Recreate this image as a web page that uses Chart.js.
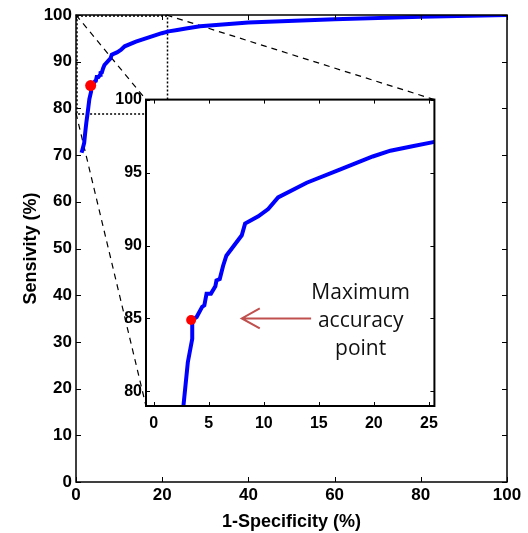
<!DOCTYPE html>
<html>
<head>
<meta charset="utf-8">
<title>ROC curve</title>
<script src="https://cdn.jsdelivr.net/npm/chart.js@4.4.1/dist/chart.umd.min.js"></script>
<style>
  html, body { margin: 0; padding: 0; background: #fff; }
  #wrap { position: relative; width: 528px; height: 533px; }
  #mainChart { position: absolute; left: 0; top: 0; }
  #insetChart { position: absolute; left: 100px; top: 86px; }
</style>
</head>
<body>
<div id="wrap">
  <canvas id="mainChart" width="528" height="533"></canvas>
  <canvas id="insetChart" width="346" height="350"></canvas>
</div>
<script>
// ROC curve (%)
const rocFpr = [1.3, 1.9, 2.1, 2.4, 2.7, 3.1, 3.5, 3.5, 3.9, 4.4, 4.6, 4.8, 5.2, 5.6, 5.7, 6.0, 6.3, 6.6,
  8.0, 8.3, 9.5, 10.4, 11.3, 13.9, 16.9, 19.9, 21.5, 23.5, 25.5, 28.8, 40, 60, 80, 100];
const rocTpr = [70.5, 72.6, 74.5, 77.0, 79.0, 82.0, 83.6, 84.9, 85.1, 85.8, 85.9, 86.7, 86.7, 87.2, 87.6, 87.7, 88.6, 89.3,
  90.7, 91.5, 92.0, 92.5, 93.3, 94.3, 95.2, 96.1, 96.5, 96.8, 97.1, 97.6, 98.4, 99.1, 99.6, 100];

// maximum accuracy point
const bestFpr = [3.4];
const bestTpr = [84.9];

const mainXTicks = [0, 20, 40, 60, 80, 100];
const mainYTicks = [0, 10, 20, 30, 40, 50, 60, 70, 80, 90, 100];
const insetXTicks = [0, 5, 10, 15, 20, 25];
const insetYTicks = [80, 85, 90, 95, 100];
const insetXRange = [-0.7, 25.5];
const insetYRange = [79, 100];

// dotted zoom box on the main axes
const zoomBoxX = [0, 21];
const zoomBoxY = [79, 100];

const noteLines = ['Maximum', 'accuracy', 'point'];
const arrowFrom = [14.3, 85];
const arrowTo = [8.0, 85];
const noteAt = [18.8, 84.8];

Chart.defaults.color = '#000';
Chart.defaults.font.family = '"Liberation Sans", Arial, sans-serif';

const curvePoints = rocFpr.map((v, i) => ({ x: v, y: rocTpr[i] }));
const bestPoints = bestFpr.map((v, i) => ({ x: v, y: bestTpr[i] }));

function setTicks(list) {
  return scale => { scale.ticks = list.map(v => ({ value: v })); };
}

// MATLAB style box with inward ticks
const boxPlugin = {
  id: 'matlabBox',
  beforeDraw(chart, args, opts) {
    if (!opts.fill) return;
    const a = chart.chartArea;
    chart.ctx.save();
    chart.ctx.fillStyle = '#fff';
    chart.ctx.fillRect(a.left, a.top, a.right - a.left, a.bottom - a.top);
    chart.ctx.restore();
  },
  afterDatasetsDraw(chart, args, opts) {
    const { ctx, chartArea: a, scales: { x, y } } = chart;
    const len = opts.tick;
    ctx.save();
    ctx.strokeStyle = '#000';
    ctx.lineWidth = 1;
    ctx.beginPath();
    x.ticks.forEach(t => {
      const px = Math.round(x.getPixelForValue(t.value)) + 0.5;
      ctx.moveTo(px, a.bottom); ctx.lineTo(px, a.bottom - len);
      ctx.moveTo(px, a.top); ctx.lineTo(px, a.top + len);
    });
    y.ticks.forEach(t => {
      const py = Math.round(y.getPixelForValue(t.value)) + 0.5;
      ctx.moveTo(a.left, py); ctx.lineTo(a.left + len, py);
      ctx.moveTo(a.right, py); ctx.lineTo(a.right - len, py);
    });
    ctx.stroke();
    ctx.lineWidth = opts.width;
    ctx.strokeRect(a.left, a.top, a.right - a.left, a.bottom - a.top);
    ctx.restore();
  }
};

// Inset (zoomed) chart
const insetCanvas = document.getElementById('insetChart');
const insetChart = new Chart(insetCanvas.getContext('2d'), {
  type: 'scatter',
  data: {
    datasets: [
      { data: bestPoints, pointRadius: 5, pointHoverRadius: 5, backgroundColor: '#ff0000', borderWidth: 0 },
      { data: curvePoints, showLine: true, borderColor: '#0000ff', borderWidth: 4, pointRadius: 0, tension: 0 }
    ]
  },
  options: {
    responsive: false,
    animation: false,
    events: [],
    layout: { padding: { top: 10, right: 10, left: 0, bottom: 0 } },
    scales: {
      x: {
        type: 'linear', min: insetXRange[0], max: insetXRange[1],
        afterBuildTicks: setTicks(insetXTicks),
        afterFit: s => { s.height = 30; },
        grid: { display: false, drawTicks: false },
        border: { display: false },
        ticks: { padding: 8, font: { size: 16, weight: 'bold' } }
      },
      y: {
        type: 'linear', min: insetYRange[0], max: insetYRange[1],
        afterBuildTicks: setTicks(insetYTicks),
        afterFit: s => { s.width = 46; },
        grid: { display: false, drawTicks: false },
        border: { display: false },
        ticks: { padding: 4, font: { size: 16, weight: 'bold' } }
      }
    },
    plugins: {
      legend: { display: false },
      tooltip: { enabled: false },
      matlabBox: { width: 2, tick: 4, fill: true }
    }
  },
  plugins: [boxPlugin, {
    id: 'note',
    afterDraw(chart) {
      const { ctx, scales: { x, y } } = chart;
      const x0 = x.getPixelForValue(arrowFrom[0]);
      const x1 = x.getPixelForValue(arrowTo[0]);
      const yy = y.getPixelForValue(arrowTo[1]);
      ctx.save();
      ctx.strokeStyle = '#c0504d';
      ctx.lineWidth = 2;
      ctx.beginPath();
      ctx.moveTo(x0, yy); ctx.lineTo(x1, yy);
      ctx.moveTo(x1 + 18, yy - 10); ctx.lineTo(x1, yy); ctx.lineTo(x1 + 18, yy + 10);
      ctx.stroke();
      ctx.fillStyle = '#111';
      ctx.font = '21px "Open Sans", sans-serif';
      ctx.textAlign = 'center';
      ctx.textBaseline = 'middle';
      const cx = x.getPixelForValue(noteAt[0]);
      const cy = y.getPixelForValue(noteAt[1]);
      noteLines.forEach((t, i) => ctx.fillText(t, cx, cy + (i - 1) * 28));
      ctx.restore();
    }
  }]
});

// Main chart
const mainChart = new Chart(document.getElementById('mainChart').getContext('2d'), {
  type: 'scatter',
  data: {
    datasets: [
      { data: bestPoints, pointRadius: 5.5, pointHoverRadius: 5.5, backgroundColor: '#ff0000', borderWidth: 0 },
      { data: curvePoints, showLine: true, borderColor: '#0000ff', borderWidth: 4, pointRadius: 0, tension: 0 }
    ]
  },
  options: {
    responsive: false,
    animation: false,
    events: [],
    layout: { padding: { top: 15, right: 21, left: 0, bottom: 0 } },
    scales: {
      x: {
        type: 'linear', min: 0, max: 100,
        afterBuildTicks: setTicks(mainXTicks),
        afterFit: s => { s.height = 51; },
        grid: { display: false, drawTicks: false },
        border: { display: false },
        ticks: { padding: 3, font: { size: 17, weight: 'bold' } },
        title: { display: true, text: '1-Specificity (%)', padding: { top: 0, bottom: 0 }, font: { size: 18, weight: 'bold' } }
      },
      y: {
        type: 'linear', min: 0, max: 100,
        afterBuildTicks: setTicks(mainYTicks),
        afterFit: s => { s.width = 76; },
        grid: { display: false, drawTicks: false },
        border: { display: false },
        ticks: { padding: 4, font: { size: 17, weight: 'bold' } },
        title: { display: true, text: 'Sensivity (%)', padding: { top: 20, bottom: 0 }, font: { size: 18, weight: 'bold' } }
      }
    },
    plugins: {
      legend: { display: false },
      tooltip: { enabled: false },
      matlabBox: { width: 1.5, tick: 5, fill: false }
    }
  },
  plugins: [boxPlugin, {
    id: 'zoomBox',
    beforeDatasetsDraw(chart) {
      const { ctx, scales: { x, y } } = chart;
      const bx0 = x.getPixelForValue(zoomBoxX[0]), bx1 = x.getPixelForValue(zoomBoxX[1]);
      const by0 = y.getPixelForValue(zoomBoxY[1]), by1 = y.getPixelForValue(zoomBoxY[0]);
      ctx.save();
      ctx.strokeStyle = '#000';
      ctx.lineWidth = 1.5;
      ctx.setLineDash([2, 2]);
      ctx.strokeRect(bx0 + 1, by0 + 1, bx1 - bx0, by1 - by0);
      // connectors to the inset corners
      const ia = insetChart.chartArea;
      const ox = insetCanvas.offsetLeft, oy = insetCanvas.offsetTop;
      ctx.lineWidth = 1.2;
      ctx.setLineDash([6, 5]);
      ctx.beginPath();
      ctx.moveTo(bx0, by0); ctx.lineTo(ox + ia.left, oy + ia.top);
      ctx.moveTo(bx1, by0); ctx.lineTo(ox + ia.right, oy + ia.top);
      ctx.moveTo(bx0, by1); ctx.lineTo(ox + ia.left, oy + ia.bottom);
      ctx.stroke();
      ctx.restore();
    }
  }]
});
</script>
</body>
</html>
